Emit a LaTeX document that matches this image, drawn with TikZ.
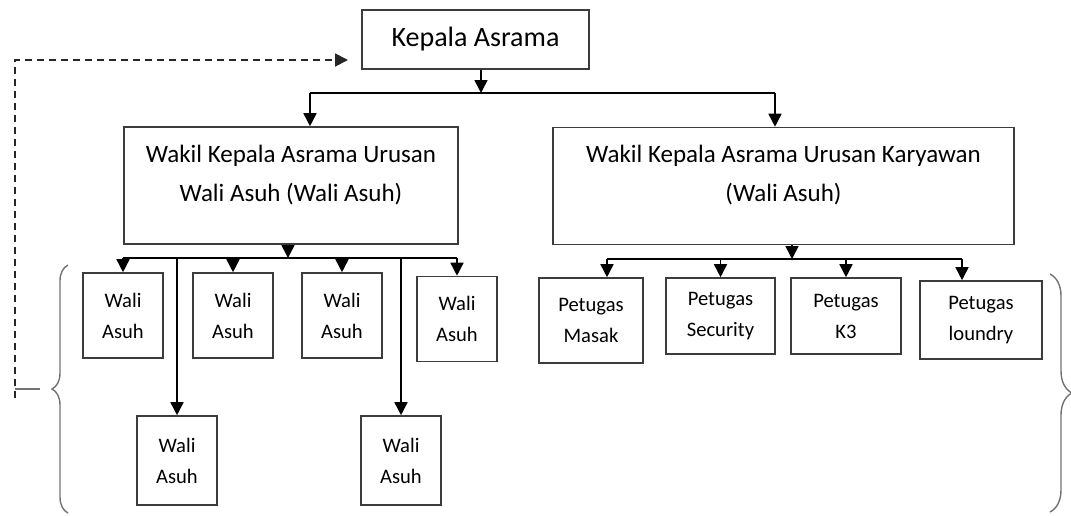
\documentclass[tikz,border=0pt]{standalone}
\usepackage{fontspec}
\setmainfont{Carlito}
\usetikzlibrary{arrows.meta,positioning,decorations.pathreplacing}
\definecolor{BoxGray}{RGB}{60,60,60}
\definecolor{BraceGray}{RGB}{115,115,115}

\begin{document}
\begin{tikzpicture}[x=0.5pt,y=-0.5pt,>={Triangle[length=6.5pt,width=6.5pt]}]
\tikzstyle{unit}=[draw=BoxGray,line width=0.8pt,inner sep=0pt,align=center]
\tikzstyle{head}=[unit,minimum width=113.5pt,minimum height=29.5pt,font=\fontsize{14}{17}\selectfont]
\tikzstyle{wakil}=[unit,font=\fontsize{12.5}{19.5}\selectfont,text height=37pt,text depth=21.5pt]
\tikzstyle{staff}=[unit,minimum width=40pt,minimum height=42.5pt,font=\fontsize{10.3}{15.5}\selectfont]
\tikzstyle{link}=[->,line width=0.8pt]
\tikzstyle{bar}=[line width=0.8pt]
\tikzstyle{curly}=[BraceGray,line width=0.7pt,decorate]
\useasboundingbox (0,0) rectangle (1071,515);
% boxes
\node[head] (kepala) at (475.5,39.5) {Kepala Asrama};
\node[wakil,minimum width=167pt] (wakilA) at (291,185.5) {Wakil Kepala Asrama Urusan\\Wali Asuh (Wali Asuh)};
\node[wakil,minimum width=230.5pt] (wakilB) at (783.5,186) {Wakil Kepala Asrama Urusan Karyawan\\(Wali Asuh)};
\node[staff] (w1) at (123,315.5) {Wali\\Asuh};
\node[staff] (w2) at (233,315.5) {Wali\\Asuh};
\node[staff] (w3) at (342,315.5) {Wali\\Asuh};
\node[staff] (w4) at (457,319) {Wali\\Asuh};
\node[staff,minimum height=44.5pt] (w5) at (177,460.5) {Wali\\Asuh};
\node[staff,minimum height=44.5pt] (w6) at (401,460.5) {Wali\\Asuh};
\node[staff,minimum width=52pt] (masak) at (591,320.5) {Petugas\\Masak};
\node[staff,minimum width=54.5pt,minimum height=38pt] (security) at (720.5,316) {Petugas\\Security};
\node[staff,minimum width=55pt,minimum height=38pt] (k3) at (846,316) {Petugas\\K3};
\node[staff,minimum width=61pt,minimum height=39pt] (loundry) at (981,320) {Petugas\\loundry};
% branch points
\coordinate (kepalaOut) at ([xshift=2.75pt]kepala.south);
\coordinate (wakilAOut) at ([xshift=-1.5pt]wakilA.south);
\coordinate (wakilBOut) at ([xshift=4.25pt]wakilB.south);
\coordinate (topL) at (310,93);
\coordinate (topR) at (775,93);
\coordinate (midL) at (123,258);
\coordinate (midR) at (457,258);
\coordinate (lowL) at (607,259);
\coordinate (lowR) at (962,259);
\coordinate (loopStart) at (15,398);
\coordinate (loopEnd) at (348,60);
% top level
\draw[link] (kepalaOut) -- (kepalaOut |- topL);
\draw[bar] (topL) -- (topR);
\draw[link] (topL) -- (topL |- wakilA.north);
\draw[link] (topR) -- (topR |- wakilB.north);
% wali asuh
\draw[link] (wakilAOut) -- (wakilAOut |- midL);
\draw[bar] (midL) -- (midR);
\foreach \n in {w1,w2,w3,w4,w5,w6}
  \draw[link] (\n.north |- midL) -- (\n.north);
% petugas
\draw[link] (wakilBOut) -- (wakilBOut |- lowL);
\draw[bar] (lowL) -- (lowR);
\draw[link] (lowL) -- (lowL |- masak.north);
\draw[link] (security.north |- lowL) -- (security.north);
\draw[link] (k3.north |- lowL) -- (k3.north);
\draw[link] (lowR) -- (lowR |- loundry.north);
% braces and feedback line
\draw[curly,decoration={brace,amplitude=8pt}] (68,513) -- (68,265);
\draw[curly,decoration={brace,amplitude=11pt}] (1050,274) -- (1050,512);
\draw[BraceGray,line width=0.8pt] (15,389) -- (40,389);
\draw[link,black!85,line width=0.9pt,dash pattern=on 3.5pt off 2.5pt] (loopStart) |- (loopEnd);
\end{tikzpicture}
\end{document}
